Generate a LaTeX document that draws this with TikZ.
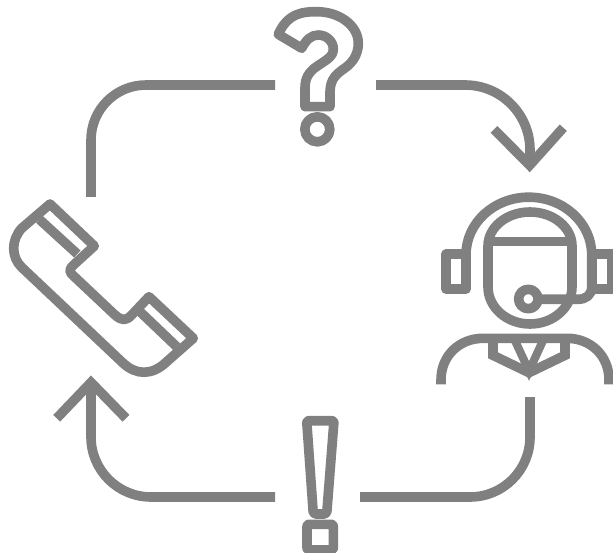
\documentclass[tikz,border=0pt]{standalone}
\usepackage{tikz}
\definecolor{icongray}{HTML}{808080}
\tikzset{
  icon/.style={draw=icongray,line width=9.6pt,line join=round},
  pointyicon/.style={draw=icongray,line width=9.6pt,line join=miter},
  thinicon/.style={draw=icongray,line width=8.2pt,line join=miter}
}

\begin{document}
\begin{tikzpicture}[x=1pt,y=-1pt]
        \useasboundingbox (0,0) rectangle (613,553);

        % spojnice
        \coordinate (callfrom) at (91,197);
        \coordinate (askto) at (275,85);
        \coordinate (askfrom) at (376,85);
        \coordinate (agentin) at (529.6,165.3);
        \coordinate (agentout) at (530,397);
        \coordinate (answerto) at (360,497);
        \coordinate (answerfrom) at (275,497);
        \coordinate (callin) at (91,382.4);

        \draw[icon] (callfrom) -- (91,140) arc[start angle=180,end angle=270,x radius=55,y radius=55] -- (askto);
        \draw[icon] (askfrom) -- (465,85) arc[start angle=-90,end angle=0,x radius=65,y radius=65] -- (agentin);
        \draw[pointyicon] (494,129.3) -- (agentin) -- (563.3,127.7);
        \draw[icon] (agentout) -- (530,437) arc[start angle=0,end angle=90,x radius=60,y radius=60] -- (answerto);
        \draw[icon] (answerfrom) -- (151,497) arc[start angle=90,end angle=180,x radius=60,y radius=60] -- (callin);
        \draw[pointyicon] (56.7,418.3) -- (callin) -- (126,418.3);

        % telefon
        \draw[icon] (50,204) -- (94.3,246) -- (76,262.7)
          .. controls (68,270) and (68,271) .. (75,277.3) -- (115,315)
          .. controls (122,321) and (126,321) .. (131.7,315) -- (149,296.7)
          -- (193.3,338.3) -- (166.7,361.7)
          .. controls (152,376) and (136,375) .. (123.3,363.3) -- (21.7,267.3)
          .. controls (11,257) and (11,240) .. (21.7,228.3) -- cycle;
        \draw[icon] (39.3,219.3) -- (77.3,254);
        \draw[icon] (140,311.7) -- (176.7,346.7);

        % otaznik
        \draw[icon] (278.3,34.3)
          .. controls (288,12) and (305,11.7) .. (316.7,11.7)
          .. controls (340,11.7) and (358.3,26) .. (358.3,43.3)
          .. controls (358.3,55) and (352,63) .. (345,68)
          .. controls (338,73) and (330,78) .. (330,92)
          -- (330,106.7) -- (305,106.7) -- (305,88)
          .. controls (305,78) and (309,72) .. (316,67)
          .. controls (326,60) and (333.3,57) .. (333.3,49)
          .. controls (333.3,41) and (326,35) .. (318.3,35)
          .. controls (311,35) and (306,40) .. (301.7,48.3) -- cycle;
        \draw[icon] (317.3,129.3) circle[radius=12.5];

        % vykricnik
        \draw[icon,rounded corners=2pt] (306.7,420.7) -- (334,420.7) -- (326.7,514) -- (313.3,514) -- cycle;
        \draw[icon,rounded corners=2pt] (307,524.3) rectangle (333.3,550);

        % operator
        \draw[icon] (446,254.3) rectangle (466,289);
        \draw[icon] (591.7,254.3) rectangle (611.7,289);
        \draw[icon] (466,254.7) arc[start angle=180,end angle=360,x radius=62.85,y radius=57.5] -- (591.7,287)
          .. controls (591.7,295) and (586,299.3) .. (578,299.3) -- (541.7,299.3);
        \draw[icon] (488,246) arc[start angle=180,end angle=360,x radius=42,y radius=34]
          -- (572,287) arc[start angle=0,end angle=180,x radius=42,y radius=37] -- cycle;
        \draw[icon] (488,241.7) -- (572,241.7);
        \draw[icon] (528.3,299) circle[radius=9.7];
        \draw[icon] (441,384.3) -- (441,380)
          .. controls (441,355) and (460,338.3) .. (483.3,338.3) -- (567,338.3)
          .. controls (590,338.3) and (609,355) .. (609,380) -- (609,384.3);
        \draw[pointyicon] (493,340) -- (493,355.3) -- (529,372.7) -- (565,355.3) -- (565,340);
        \draw[thinicon] (513.8,338) -- (529,371) -- (544.2,338);
    \end{tikzpicture}
\end{document}
